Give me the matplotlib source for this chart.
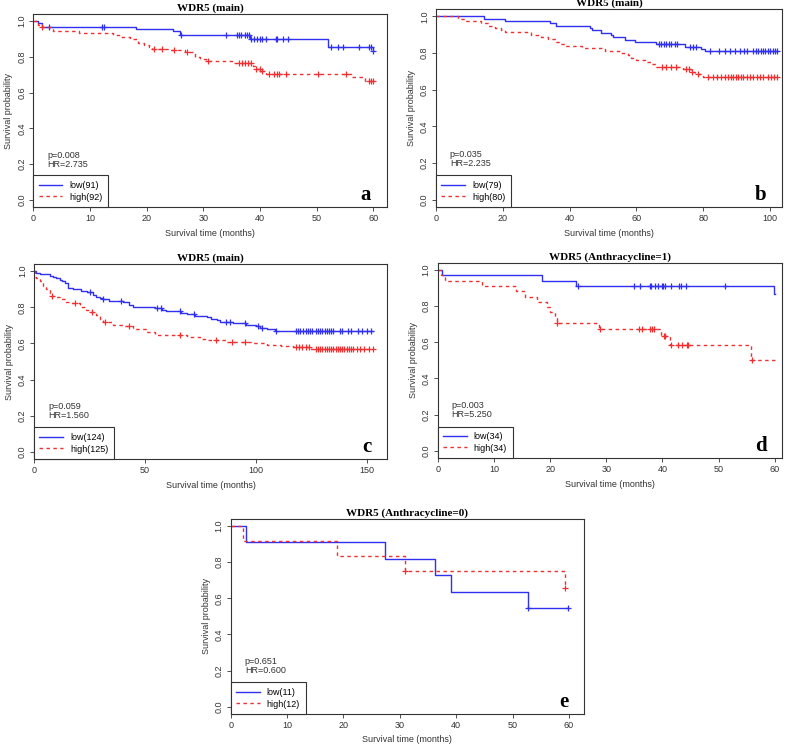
import numpy as np
import matplotlib
matplotlib.use('Agg')
import matplotlib.pyplot as plt

plt.rcParams['font.family'] = ['Liberation Sans', 'DejaVu Sans']

BLUE = '#3030f0'
RED = '#f03030'

# panel a
a_low_t = [0.8, 1.5, 18.2, 24.7, 25.9, 38.3, 52.1, 59.9]
a_low_s = [0.989, 0.967, 0.956, 0.945, 0.922, 0.899, 0.855, 0.833]
a_low_c = [2.8, 12.2, 12.5, 26.0, 34.1, 36.0, 36.3, 36.7, 37.4, 37.8, 38.0, 38.5, 39.0,
           39.5, 40.0, 40.3, 41.0, 42.8, 43.1, 44.0, 45.0, 52.6, 53.8, 54.6, 57.5, 59.3, 59.6, 60.0]
a_high_t = [0.8, 1.5, 3.5, 8.0, 14.0, 15.5, 17.0, 18.5, 19.5, 20.5, 21.0, 24.2, 26.8, 28.5,
            29.5, 30.5, 35.3, 38.8, 39.2, 40.2, 41.0, 56.0, 58.5]
a_high_s = [0.978, 0.967, 0.945, 0.934, 0.923, 0.912, 0.901, 0.879, 0.868, 0.857, 0.846,
            0.836, 0.825, 0.80, 0.787, 0.775, 0.764, 0.75, 0.735, 0.72, 0.705, 0.69, 0.667]
a_high_c = [1.5, 21.3, 22.8, 24.8, 27.2, 30.8, 36.3, 36.9, 37.4, 37.9, 38.4, 39.3, 40.0, 40.4,
            41.6, 42.5, 43.0, 43.4, 44.6, 50.3, 55.2, 59.2, 59.6, 60.0]

# panel b
b_low_t = [14.4, 20.6, 34.1, 36.0, 46.0, 46.8, 49.5, 52.5, 53.0, 56.5, 59.5, 66.0, 74.5, 79.5, 80.5]
b_low_s = [0.987, 0.975, 0.962, 0.950, 0.937, 0.924, 0.911, 0.899, 0.886, 0.873, 0.861,
           0.848, 0.835, 0.822, 0.81]
b_low_c = [66.8, 67.5, 68.2, 69.0, 69.8, 70.5, 71.5, 72.3, 76.0, 77.0, 78.0, 82.0, 84.8, 86.5,
           88.0, 89.5, 91.0, 92.3, 93.0, 95.0, 95.8, 96.5, 97.2, 97.8, 98.5, 99.3, 100.0,
           100.8, 101.5, 102.0]
b_high_t = [6.6, 8.6, 13.6, 15.6, 17.6, 19.6, 20.6, 28.5, 31.5, 33.5, 36.0, 37.0, 38.5, 43.6,
            50.5, 55.0, 57.5, 58.5, 60.0, 62.5, 64.5, 66.0, 74.0, 76.5, 77.5, 80.0]
b_high_s = [0.9875, 0.975, 0.9625, 0.95, 0.9375, 0.925, 0.9125, 0.90, 0.8875, 0.875, 0.8625,
            0.85, 0.8375, 0.825, 0.8125, 0.80, 0.7875, 0.775, 0.7625, 0.75, 0.7375, 0.725,
            0.712, 0.697, 0.683, 0.667]
b_high_c = [67.8, 69.0, 70.3, 71.8, 75.0, 75.8, 76.8, 78.5, 81.5, 82.8, 84.0, 85.3, 86.5, 87.5,
            88.3, 89.0, 89.8, 90.5, 91.3, 92.0, 93.0, 94.0, 95.0, 96.0, 97.0, 98.0, 99.3,
            100.3, 101.3, 102.0]

# panel c
c_low_t = [0.8, 2.5, 7.0, 8.6, 10.0, 11.5, 12.5, 14.0, 15.3, 17.6, 21.4, 24.0, 26.6, 28.0,
           29.6, 31.0, 34.0, 40.0, 43.0, 44.7, 54.5, 57.5, 59.7, 66.5, 68.8, 72.5, 77.8, 80.0,
           82.3, 83.8, 89.8, 95.5, 100.3, 101.8, 104.9, 108.6, 116.0]
c_low_s = [0.992, 0.984, 0.976, 0.968, 0.960, 0.952, 0.944, 0.935, 0.909, 0.901, 0.893,
           0.885, 0.870, 0.860, 0.852, 0.844, 0.836, 0.828, 0.812, 0.804, 0.796, 0.788,
           0.780, 0.770, 0.762, 0.754, 0.745, 0.737, 0.728, 0.720, 0.712, 0.703, 0.695,
           0.686, 0.678, 0.670, 0.667]
c_low_c = [25.3, 31.3, 39.3, 55.5, 57.3, 65.7, 72.0, 86.6, 88.3, 95.0, 100.8, 103.0, 109.0,
           118.0, 119.0, 120.0, 121.5, 122.5, 123.5, 124.5, 125.5, 127.0, 128.0, 129.0, 130.0,
           131.0, 132.0, 133.0, 134.0, 135.0, 138.0, 139.0, 141.5, 143.0, 146.0, 148.0,
           150.0, 152.0]
c_high_t = [0.3, 1.0, 2.5, 4.0, 5.5, 7.0, 7.8, 10.0, 12.0, 14.6, 16.8, 20.6, 23.6, 25.0, 28.0,
            29.6, 31.0, 35.7, 40.0, 44.7, 50.7, 54.5, 68.8, 74.8, 77.0, 86.8, 98.8, 104.9,
            111.6, 116.9, 125.0]
c_high_s = [0.968, 0.96, 0.944, 0.92, 0.90, 0.88, 0.864, 0.856, 0.848, 0.832, 0.824, 0.80,
            0.784, 0.776, 0.76, 0.735, 0.72, 0.703, 0.695, 0.678, 0.661, 0.648, 0.635, 0.627,
            0.619, 0.61, 0.60, 0.592, 0.584, 0.578, 0.568]
c_high_c = [8.3, 18.4, 26.0, 32.0, 42.8, 66.0, 82.0, 89.3, 95.0, 118.0, 119.5, 121.0, 122.5,
            124.0, 127.0, 128.0, 129.0, 130.0, 131.0, 132.0, 133.0, 134.0, 135.0, 136.0,
            137.0, 138.0, 139.0, 140.0, 141.0, 142.0, 143.0, 144.0, 145.5, 147.0, 149.0,
            151.0, 153.0]

# panel d
d_low_t = [0.7, 18.5, 24.7, 59.9]
d_low_s = [0.971, 0.941, 0.912, 0.868]
d_low_c = [25.0, 35.0, 36.0, 37.7, 38.0, 38.6, 39.3, 39.9, 40.1, 40.4, 41.5, 43.0, 43.3, 44.2, 51.1]
d_high_t = [0.6, 1.3, 7.8, 14.0, 15.5, 17.6, 19.4, 20.0, 20.9, 21.2, 28.7, 39.8, 41.4, 55.8]
d_high_s = [0.971, 0.941, 0.912, 0.882, 0.853, 0.824, 0.794, 0.765, 0.735, 0.706, 0.674,
            0.637, 0.584, 0.5]
d_high_c = [21.2, 28.8, 35.8, 36.3, 37.7, 38.2, 38.5, 40.2, 40.4, 41.6, 42.7, 43.5, 44.3, 44.6, 56.0]

# panel e
e_low_t = [2.7, 27.4, 36.2, 39.0, 52.8]
e_low_s = [0.909, 0.818, 0.727, 0.636, 0.545]
e_low_c = [52.8, 59.8]
e_high_t = [2.1, 18.8, 30.9, 59.3]
e_high_s = [0.917, 0.833, 0.75, 0.656]
e_high_c = [30.9, 59.3]

panels = [
    dict(pos=[0.042, 0.7225, 0.447, 0.2587], title='WDR5 (main)', letter='a',
         low=(a_low_t, a_low_s, a_low_c, 60.0), high=(a_high_t, a_high_s, a_high_c, 60.0),
         n=(91, 92), stats=('0.008', '2.735'), xmax=62.4, xticks=range(0, 61, 10)),
    dict(pos=[0.5512, 0.7225, 0.4374, 0.2654], title='WDR5 (main)', letter='b',
         low=(b_low_t, b_low_s, b_low_c, 102.0), high=(b_high_t, b_high_s, b_high_c, 102.0),
         n=(79, 80), stats=('0.035', '2.235'), xmax=103.6, xticks=range(0, 101, 20)),
    dict(pos=[0.043, 0.3847, 0.4463, 0.2614], title='WDR5 (main)', letter='c',
         low=(c_low_t, c_low_s, c_low_c, 153.0), high=(c_high_t, c_high_s, c_high_c, 153.0),
         n=(124, 125), stats=('0.059', '1.560'), xmax=159.2, xticks=range(0, 151, 50)),
    dict(pos=[0.5534, 0.386, 0.4353, 0.2618], title='WDR5 (Anthracycline=1)', letter='d',
         low=(d_low_t, d_low_s, d_low_c, 60.0), high=(d_high_t, d_high_s, d_high_c, 60.0),
         n=(34, 34), stats=('0.003', '5.250'), xmax=61.3, xticks=range(0, 61, 10)),
    dict(pos=[0.2917, 0.0429, 0.4467, 0.2618], title='WDR5 (Anthracycline=0)', letter='e',
         low=(e_low_t, e_low_s, e_low_c, 59.8), high=(e_high_t, e_high_s, e_high_c, 59.3),
         n=(11, 12), stats=('0.651', '0.600'), xmax=62.7, xticks=range(0, 61, 10)),
]


def km_curve(ax, curve, color, ls, label):
    t, s, c, end = curve
    x = np.concatenate([[0.0], t, [end]])
    y = np.concatenate([[1.0], s, [s[-1]]])
    ax.step(x, y, where='post', color=color, ls=ls, lw=1.0, label=label)
    # censor marks sit on the curve
    idx = np.searchsorted(x, c, side='right') - 1
    ax.plot(c, y[idx], ls='none', marker='+', color=color, ms=5, mew=0.9)


fig = plt.figure(figsize=(7.91, 7.46), dpi=100)

for p in panels:
    ax = fig.add_axes(p['pos'])
    km_curve(ax, p['low'], BLUE, '-', 'low(%d)' % p['n'][0])
    km_curve(ax, p['high'], RED, (0, (2.5, 2.5)), 'high(%d)' % p['n'][1])
    ax.set_xlim(0, p['xmax'])
    ax.set_ylim(-0.04, 1.04)
    ax.set_xticks(list(p['xticks']))
    ax.set_yticks([0.0, 0.2, 0.4, 0.6, 0.8, 1.0])
    ax.set_yticklabels(['0.0', '0.2', '0.4', '0.6', '0.8', '1.0'], rotation=90, va='center')
    ax.tick_params(labelsize=6.5, length=3, width=0.6, pad=2, colors='#333333')
    for sp in ax.spines.values():
        sp.set_linewidth(0.8)
        sp.set_color('#333333')
    ax.set_title(p['title'], family=['Liberation Serif'], fontweight='bold', fontsize=8, pad=2)
    ax.set_xlabel('Survival time (months)', fontsize=6.5, labelpad=4, color='#333333')
    ax.set_ylabel('Survival probability', fontsize=6.5, labelpad=3, color='#333333')
    ax.text(0.04, 0.29, 'p=%s\nHR=%s' % p['stats'], transform=ax.transAxes,
            fontsize=6.5, va='top', ha='left', linespacing=1.0, color='#333333')
    ax.text(0.955, 0.06, p['letter'], transform=ax.transAxes, family=['Liberation Serif'],
            fontweight='bold', fontsize=15, ha='right', va='center')
    leg = ax.legend(loc='lower left', borderaxespad=0, fontsize=6.5, fancybox=False,
                    framealpha=1, edgecolor='#333333', handlelength=2.6, labelspacing=0.3,
                    borderpad=0.6)
    leg.get_frame().set_linewidth(0.8)

plt.savefig('out.png', dpi=100)
